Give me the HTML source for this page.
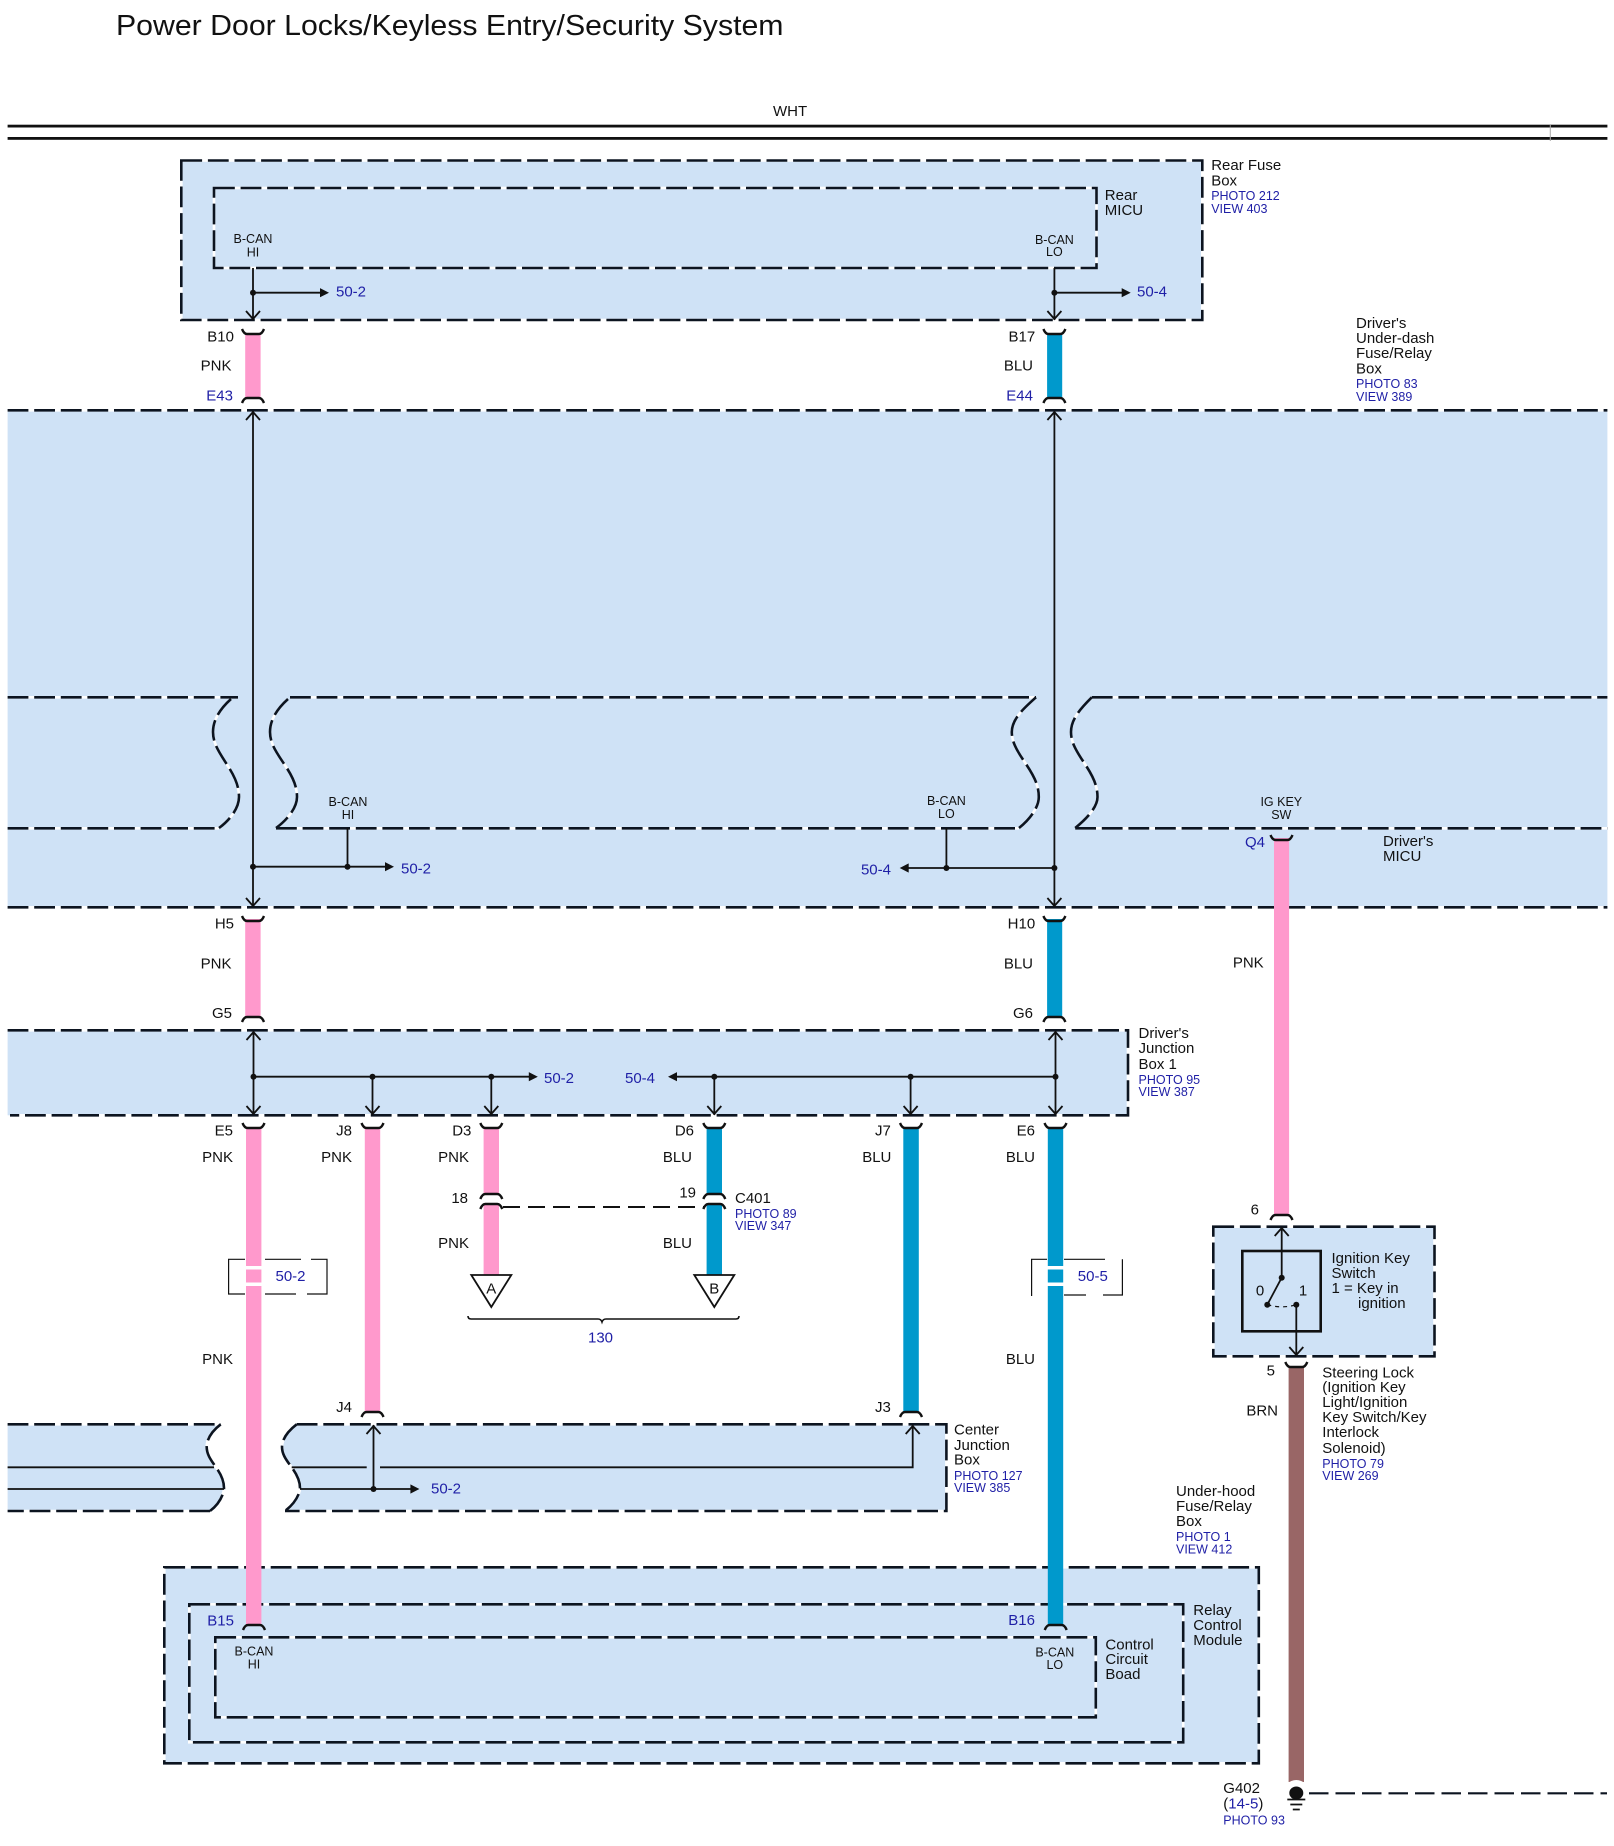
<!DOCTYPE html>
<html lang="en">
<head>
<meta charset="utf-8">
<title>Power Door Locks/Keyless Entry/Security System</title>
<style>
html,body{margin:0;padding:0;background:#fff}
svg{display:block}
text{font-family:"Liberation Sans",Arial,sans-serif;font-size:15px;fill:#111}
.s{font-size:12.5px}
.b{fill:#1f1fa6}
.e{text-anchor:end}
.m{text-anchor:middle}
.box{fill:#cfe2f6;stroke:none}
.l{fill:none;stroke:#111;stroke-width:1.8}
.t{fill:none;stroke:#111;stroke-width:1.2}
.dot{fill:#111}
</style>
</head>
<body>
<svg xmlns="http://www.w3.org/2000/svg" width="1614" height="1846" viewBox="0 0 1614 1846">
<defs>
<path id="capS" d="M-11,-4 Q-9,1 -6,1 H6 Q9,1 11,-4" fill="none" stroke="#111" stroke-width="2.4"/>
<path id="capF" d="M-11,4 Q-9,-1 -6,-1 H6 Q9,-1 11,4" fill="none" stroke="#111" stroke-width="2.4"/>
<path id="aD" d="M-7,-8 L0,0 L7,-8" fill="none" stroke="#111" stroke-width="1.8"/>
<path id="aU" d="M-7,8 L0,0 L7,8" fill="none" stroke="#111" stroke-width="1.8"/>
<path id="tR" d="M0,0 L-9,-4.6 V4.6 Z" fill="#111"/>
<path id="tL" d="M0,0 L9,-4.6 V4.6 Z" fill="#111"/>
<g id="dd" fill="none">
<rect x="181.3" y="160.5" width="1021" height="159.5"/>
<rect x="214" y="188" width="882.5" height="80"/>
<path d="M7.6,410.3 H1607.4"/>
<path d="M7.6,907.3 H1607.4"/>
<path d="M7.6,697.3 H238 M290,697.3 H1036 M1091.8,697.3 H1607.4"/>
<path d="M7.6,828.3 H219 M276,828.3 H1019 M1075.2,828.3 H1607.4"/>
<path d="M231,699 C221,708 213,719 213,732 C213,755 239,770 239,797 C239,808 230,820 219,828"/>
<path d="M288,699 C278,708 270,719 270,732 C270,755 297,770 297,797 C297,808 287,820 276,828"/>
<path d="M1036,697.3 C1024,708 1011.8,719 1011.8,732 C1011.8,755 1038.8,770 1038.8,797 C1038.8,808 1029,820 1019,828"/>
<path d="M1091.8,697.3 C1081,708 1071,719 1071,732 C1071,755 1097.5,770 1097.5,797 C1097.5,808 1085,820 1075.2,828"/>
<path d="M7.6,1030.3 H1128 V1115.3 H10"/>
<path d="M7.6,1424.3 H220.7 M296.7,1424.3 H946.4 V1511 H285 M210,1511 H7.6"/>
<path d="M220.7,1424.3 C212,1431 206.7,1439 206.7,1447 C206.7,1462 224,1470 224,1488 C224,1495 218,1505 210,1511"/>
<path d="M296.7,1424.3 C288,1431 282,1439 282,1447 C282,1462 300,1470 300,1488 C300,1495 293,1505 285,1511"/>
<rect x="1213.3" y="1226.7" width="221.2" height="129.6"/>
<rect x="164.3" y="1567.3" width="1094.5" height="196"/>
<rect x="189.3" y="1604.3" width="993.9" height="138"/>
<rect x="215.3" y="1637.3" width="880.5" height="80"/>
</g>
</defs>

<!-- Title and bus -->
<text x="116" y="35" style="font-size:29px" textLength="667.5" lengthAdjust="spacingAndGlyphs">Power Door Locks/Keyless Entry/Security System</text>
<text x="773" y="116">WHT</text>
<rect x="7.6" y="124.7" width="1599.8" height="2.8" fill="#111"/>
<rect x="7.6" y="137" width="1599.8" height="2.8" fill="#111"/>
<line x1="1550.3" y1="125" x2="1550.3" y2="141" stroke="#aaa" stroke-width="1"/>

<!-- Box fills -->
<rect class="box" x="181.3" y="160.5" width="1021" height="159.5"/>
<rect class="box" x="7.6" y="410.3" width="1599.8" height="497"/>
<rect class="box" x="7.6" y="1030.3" width="1120.4" height="85"/>
<path class="box" d="M7.6,1424.3 H220.7 C212,1431 206.7,1439 206.7,1447 C206.7,1462 224,1470 224,1488 C224,1495 218,1505 210,1511 H7.6 Z"/>
<path class="box" d="M296.7,1424.3 H946.4 V1511 H285 C293,1505 300,1495 300,1488 C300,1470 282,1462 282,1447 C282,1439 288,1431 296.7,1424.3 Z"/>
<rect class="box" x="1213.3" y="1226.7" width="221.2" height="129.6"/>
<rect class="box" x="164.3" y="1567.3" width="1094.5" height="196"/>

<!-- Dashed outlines: white underlay shows through the gaps -->
<use href="#dd" stroke="#fff" stroke-width="2.6"/>
<use href="#dd" stroke="#0c1420" stroke-width="2.6" stroke-dasharray="20.8 5.8"/>

<!-- Thin lines in boxes -->
<path class="l" d="M253,268 V320 M253,292.7 H322 M1054.4,268 V320 M1054.4,292.7 H1123"/>
<use href="#aD" x="253" y="319"/><use href="#aD" x="1054.4" y="319"/>
<use href="#tR" x="329" y="292.7"/><use href="#tR" x="1130.7" y="292.7"/>
<circle class="dot" cx="253" cy="292.7" r="3"/><circle class="dot" cx="1054.4" cy="292.7" r="3"/>

<path class="l" d="M253,411 V907 M1054.4,411 V907 M253,866.7 H387 M347.5,828 V866.7 M1054.4,868 H906 M946.4,828 V868"/>
<use href="#aU" x="253" y="412"/><use href="#aU" x="1054.4" y="412"/>
<use href="#aD" x="253" y="906"/><use href="#aD" x="1054.4" y="906"/>
<use href="#tR" x="394" y="866.7"/><use href="#tL" x="899.7" y="868"/>
<circle class="dot" cx="253" cy="866.7" r="3"/><circle class="dot" cx="347.5" cy="866.7" r="3"/>
<circle class="dot" cx="946.4" cy="868" r="3"/><circle class="dot" cx="1054.4" cy="868" r="3"/>

<path class="l" d="M253.5,1031 V1115 M1055.5,1031 V1115 M253.5,1076.7 H530 M372.5,1076.7 V1115 M491.3,1076.7 V1115 M1055.5,1076.7 H675 M714.3,1076.7 V1115 M910.6,1076.7 V1115"/>
<use href="#aU" x="253.5" y="1032"/><use href="#aU" x="1055.5" y="1032"/>
<use href="#aD" x="253.5" y="1114"/><use href="#aD" x="372.5" y="1114"/><use href="#aD" x="491.3" y="1114"/>
<use href="#aD" x="714.3" y="1114"/><use href="#aD" x="910.6" y="1114"/><use href="#aD" x="1055.5" y="1114"/>
<use href="#tR" x="537.8" y="1076.7"/><use href="#tL" x="668" y="1076.7"/>
<circle class="dot" cx="253.5" cy="1076.7" r="3"/><circle class="dot" cx="372.5" cy="1076.7" r="3"/><circle class="dot" cx="491.3" cy="1076.7" r="3"/>
<circle class="dot" cx="714.3" cy="1076.7" r="3"/><circle class="dot" cx="910.6" cy="1076.7" r="3"/><circle class="dot" cx="1055.5" cy="1076.7" r="3"/>

<path class="l" d="M7.6,1467.3 H214 M7.6,1489 H224 M291.7,1467.3 H366.7 M380,1467.3 H912.7 V1425 M300,1489 H412 M373.5,1425 V1489"/>
<use href="#aU" x="373.5" y="1426"/><use href="#aU" x="912.7" y="1426"/>
<use href="#tR" x="419.4" y="1489"/>
<circle class="dot" cx="373.5" cy="1489" r="3"/>

<!-- Wires -->
<g fill="#ff99cc">
<rect x="245.2" y="334" width="15.4" height="64"/>
<rect x="245.2" y="919" width="15.4" height="98"/>
<rect x="246" y="1127" width="15.4" height="499"/>
<rect x="364.8" y="1127" width="15.4" height="286"/>
<rect x="483.6" y="1127" width="15.4" height="68"/>
<rect x="483.6" y="1205" width="15.4" height="70"/>
<rect x="1274" y="838" width="15.1" height="377"/>
</g>
<g fill="#0099cc">
<rect x="1047.1" y="334" width="15.1" height="64"/>
<rect x="1047.1" y="919" width="15.1" height="98"/>
<rect x="1047.8" y="1127" width="15.4" height="499"/>
<rect x="903.3" y="1127" width="15.5" height="286"/>
<rect x="706.6" y="1127" width="15.4" height="68"/>
<rect x="706.6" y="1205" width="15.4" height="70"/>
</g>
<rect x="1288.6" y="1366" width="15.4" height="416" fill="#996666"/>

<!-- White breaks -->
<g fill="#fff">
<rect x="245" y="1266" width="17" height="3.5"/>
<rect x="245" y="1282.5" width="17" height="3.5"/>
<rect x="1047" y="1266" width="17" height="3.5"/>
<rect x="1047" y="1282.5" width="17" height="3.5"/>
</g>
<path class="t" d="M245,1259.3 H228.6 V1294 H245 M265,1259.3 H301 M311,1259.3 H327 V1294 H307 M296,1294 H265"/>
<path class="t" d="M1047,1259.3 H1031.6 V1296 M1064,1259.3 H1105 M1122.4,1259.3 V1295 H1103 M1086,1295 H1064"/>

<!-- Connector caps -->
<use href="#capS" x="253" y="333"/><use href="#capS" x="1054.4" y="333"/>
<use href="#capF" x="253" y="399"/><use href="#capF" x="1054.4" y="399"/>
<use href="#capS" x="253" y="920"/><use href="#capS" x="1054.4" y="920"/>
<use href="#capF" x="253" y="1018"/><use href="#capF" x="1054.4" y="1018"/>
<use href="#capS" x="253.5" y="1127"/><use href="#capS" x="372.5" y="1127"/><use href="#capS" x="491.3" y="1127"/>
<use href="#capS" x="714.3" y="1127"/><use href="#capS" x="911" y="1127"/><use href="#capS" x="1055.5" y="1127"/>
<use href="#capS" x="1281.5" y="839"/>
<use href="#capF" x="491.3" y="1195"/><use href="#capF" x="491.3" y="1205"/>
<use href="#capF" x="714.3" y="1195"/><use href="#capF" x="714.3" y="1205"/>
<use href="#capF" x="372.5" y="1413"/><use href="#capF" x="911" y="1413"/>
<use href="#capF" x="1281.5" y="1216"/>
<use href="#capS" x="1296.3" y="1366"/>
<use href="#capF" x="254" y="1626"/><use href="#capF" x="1055.7" y="1626"/>

<!-- C401 dashed link -->
<path d="M503,1207 H704" fill="none" stroke="#111" stroke-width="2" stroke-dasharray="17 8"/>

<!-- Triangles -->
<path d="M471.3,1275 H511.3 L491.3,1307 Z M694.3,1275 H734.3 L714.3,1307 Z" fill="#fff" stroke="#111" stroke-width="1.8"/>
<path d="M468,1316 Q468,1319 471,1319 H598 Q601,1319 602,1322 Q603,1319 606,1319 H736 Q739,1319 739,1316" fill="none" stroke="#111" stroke-width="1.6"/>

<!-- Ignition switch -->
<rect x="1242.3" y="1251" width="78.4" height="80.3" fill="none" stroke="#111" stroke-width="2.6"/>
<path class="l" d="M1281.7,1228 V1277.7 L1267.3,1304.7 M1296.3,1304.7 V1356"/>
<path d="M1267.3,1304.7 Q1282,1309 1296.3,1304.7" fill="none" stroke="#111" stroke-width="1.2" stroke-dasharray="4 4"/>
<use href="#aU" x="1281.7" y="1228"/><use href="#aD" x="1296.3" y="1355"/>
<circle class="dot" cx="1281.7" cy="1277.7" r="3"/><circle class="dot" cx="1267.3" cy="1304.7" r="3"/><circle class="dot" cx="1296.3" cy="1304.7" r="3"/>

<!-- Ground -->
<path d="M1286.5,1784 Q1296.3,1776 1306,1784 Z" fill="#fff"/>
<ellipse class="dot" cx="1296.3" cy="1793" rx="7" ry="6.5"/>
<path d="M1287.3,1799.5 H1305.3 M1290.3,1804.5 H1302.3 M1292.8,1809.5 H1299.8" stroke="#111" stroke-width="1.8"/>
<path d="M1309,1793.3 H1607" fill="none" stroke="#0c1420" stroke-width="2.2" stroke-dasharray="19.5 7"/>

<!-- Labels: rear box -->
<text class="s m" x="253" y="243">B-CAN</text><text class="s m" x="253" y="256.5">HI</text>
<text class="s m" x="1054.4" y="244">B-CAN</text><text class="s m" x="1054.4" y="256">LO</text>
<text class="b" x="336" y="296.5">50-2</text><text class="b" x="1137" y="296.5">50-4</text>
<text x="1104.8" y="200">Rear</text><text x="1104.8" y="215">MICU</text>
<text x="1211.2" y="170">Rear Fuse</text><text x="1211.2" y="185.5">Box</text>
<text class="s b" x="1211.2" y="200">PHOTO 212</text><text class="s b" x="1211.2" y="213">VIEW 403</text>

<text class="e" x="234" y="341.5">B10</text><text class="e" x="1035.2" y="341.5">B17</text>
<text class="e" x="231.5" y="370.5">PNK</text><text class="e" x="1033" y="370.5">BLU</text>
<text class="e b" x="233" y="400.5">E43</text><text class="e b" x="1033" y="400.5">E44</text>

<text x="1356" y="328">Driver's</text><text x="1356" y="343">Under-dash</text><text x="1356" y="358">Fuse/Relay</text><text x="1356" y="373.5">Box</text>
<text class="s b" x="1356" y="388">PHOTO 83</text><text class="s b" x="1356" y="401">VIEW 389</text>

<!-- Under-dash labels -->
<text class="s m" x="348" y="806">B-CAN</text><text class="s m" x="348" y="819">HI</text>
<text class="s m" x="946.4" y="805">B-CAN</text><text class="s m" x="946.4" y="818">LO</text>
<text class="s m" x="1281.3" y="806">IG KEY</text><text class="s m" x="1281.3" y="819">SW</text>
<text class="b" x="401" y="873.5">50-2</text><text class="e b" x="891" y="874.5">50-4</text>
<text class="e b" x="1265" y="847">Q4</text>
<text x="1383" y="846">Driver's</text><text x="1383" y="861">MICU</text>

<text class="e" x="234" y="928.5">H5</text><text class="e" x="1035.2" y="928.5">H10</text>
<text class="e" x="231.5" y="968.5">PNK</text><text class="e" x="1033" y="968.5">BLU</text>
<text class="e" x="1263.7" y="967.5">PNK</text>
<text class="e" x="232" y="1018">G5</text><text class="e" x="1033" y="1018">G6</text>

<!-- Junction box labels -->
<text class="b" x="544" y="1083">50-2</text><text class="b" x="625" y="1083">50-4</text>
<text x="1138.5" y="1038">Driver's</text><text x="1138.5" y="1053">Junction</text><text x="1138.5" y="1069">Box 1</text>
<text class="s b" x="1138.5" y="1084.2">PHOTO 95</text><text class="s b" x="1138.5" y="1096.2">VIEW 387</text>

<text class="e" x="233" y="1135.5">E5</text><text class="e" x="352" y="1135.5">J8</text><text class="e" x="471.4" y="1135.5">D3</text>
<text class="e" x="694" y="1135.5">D6</text><text class="e" x="890.9" y="1135.5">J7</text><text class="e" x="1035" y="1135.5">E6</text>

<text class="e" x="233" y="1162">PNK</text><text class="e" x="352" y="1162">PNK</text><text class="e" x="469" y="1162">PNK</text>
<text class="e" x="692" y="1162">BLU</text><text class="e" x="891.4" y="1162">BLU</text><text class="e" x="1035" y="1162">BLU</text>

<text class="e" x="468" y="1203">18</text><text class="e" x="696" y="1197.5">19</text>
<text x="735" y="1203">C401</text>
<text class="s b" x="735" y="1218.2">PHOTO 89</text><text class="s b" x="735" y="1230.2">VIEW 347</text>
<text class="e" x="469" y="1248">PNK</text><text class="e" x="692" y="1248">BLU</text>
<text class="m" x="491.3" y="1293.5">A</text><text class="m" x="714.3" y="1293.5">B</text>
<text class="m b" x="600.5" y="1342.5">130</text>
<text class="b" x="275.5" y="1281">50-2</text><text class="b" x="1077.8" y="1281">50-5</text>
<text class="e" x="233" y="1364">PNK</text><text class="e" x="1035" y="1364">BLU</text>

<text class="e" x="352" y="1412">J4</text><text class="e" x="890.9" y="1412">J3</text>
<text class="b" x="431" y="1493.5">50-2</text>
<text x="954" y="1434.3">Center</text><text x="954" y="1450">Junction</text><text x="954" y="1464.5">Box</text>
<text class="s b" x="954" y="1480.2">PHOTO 127</text><text class="s b" x="954" y="1492.2">VIEW 385</text>

<!-- Switch labels -->
<text class="e" x="1259" y="1214.5">6</text>
<text class="m" x="1260" y="1295.5">0</text><text class="m" x="1303" y="1295.5">1</text>
<text x="1331.5" y="1263">Ignition Key</text><text x="1331.5" y="1278">Switch</text><text x="1331.5" y="1293">1 = Key in</text><text x="1358" y="1308">ignition</text>
<text class="e" x="1275" y="1375.5">5</text>
<text class="e" x="1278" y="1415.5">BRN</text>
<text x="1322.3" y="1377.3">Steering Lock</text><text x="1322.3" y="1392">(Ignition Key</text><text x="1322.3" y="1407">Light/Ignition</text><text x="1322.3" y="1422">Key Switch/Key</text><text x="1322.3" y="1437">Interlock</text><text x="1322.3" y="1453">Solenoid)</text>
<text class="s b" x="1322.3" y="1468.2">PHOTO 79</text><text class="s b" x="1322.3" y="1480.2">VIEW 269</text>

<!-- Relay labels -->
<text x="1176" y="1496">Under-hood</text><text x="1176" y="1511">Fuse/Relay</text><text x="1176" y="1526">Box</text>
<text class="s b" x="1176" y="1541.2">PHOTO 1</text><text class="s b" x="1176" y="1553.5">VIEW 412</text>
<text class="e b" x="234" y="1625.5">B15</text><text class="e b" x="1035" y="1625">B16</text>
<text class="s m" x="254" y="1655.5">B-CAN</text><text class="s m" x="254" y="1668.5">HI</text>
<text class="s m" x="1054.8" y="1656.5">B-CAN</text><text class="s m" x="1054.8" y="1669">LO</text>
<text x="1105.4" y="1649.3">Control</text><text x="1105.4" y="1664">Circuit</text><text x="1105.4" y="1679">Boad</text>
<text x="1193.3" y="1615">Relay</text><text x="1193.3" y="1630">Control</text><text x="1193.3" y="1645">Module</text>
<text x="1223.3" y="1793">G402</text>
<text x="1223.3" y="1808.5">(<tspan style="fill:#1f1fa6">14-5</tspan>)</text>
<text class="s b" x="1223.3" y="1824.5">PHOTO 93</text>
</svg>
</body>
</html>
